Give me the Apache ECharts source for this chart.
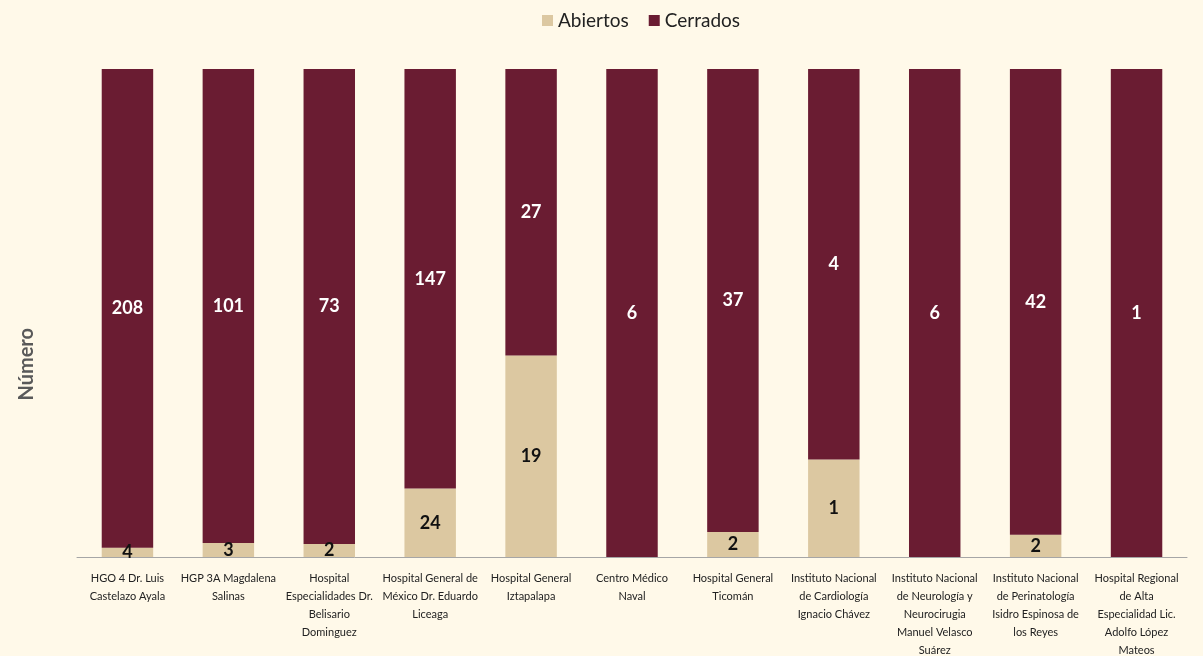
<!DOCTYPE html>
<html>
<head>
<meta charset="utf-8">
<style>
  html, body { margin: 0; padding: 0; background: #fff9e9; }
  #chart { width: 1203px; height: 656px; }
</style>
<script src="https://cdn.jsdelivr.net/npm/echarts@6/dist/echarts.min.js"></script>
</head>
<body>
<div id="chart"></div>
<script>
  var categories = [
    'HGO 4 Dr. Luis\nCastelazo Ayala',
    'HGP 3A Magdalena\nSalinas',
    'Hospital\nEspecialidades Dr.\nBelisario\nDominguez',
    'Hospital General de\nMéxico Dr. Eduardo\nLiceaga',
    'Hospital General\nIztapalapa',
    'Centro Médico\nNaval',
    'Hospital General\nTicomán',
    'Instituto Nacional\nde Cardiología\nIgnacio Chávez',
    'Instituto Nacional\nde Neurología y\nNeurocirugia\nManuel Velasco\nSuárez',
    'Instituto Nacional\nde Perinatología\nIsidro Espinosa de\nlos Reyes',
    'Hospital Regional\nde Alta\nEspecialidad Lic.\nAdolfo López\nMateos'
  ];
  var abiertos = [4, 3, 2, 24, 19, 0, 2, 1, 0, 2, 0];
  var cerrados = [208, 101, 73, 147, 27, 6, 37, 4, 6, 42, 1];

  // 100% stacked: bar height is the share, label shows the count
  function share(arr, i) {
    var total = abiertos[i] + cerrados[i];
    return { value: total ? arr[i] / total * 100 : 0, count: arr[i] };
  }
  var abData = abiertos.map(function (v, i) { return share(abiertos, i); });
  var ceData = cerrados.map(function (v, i) { return share(cerrados, i); });

  var font = 'Lato, "Open Sans", sans-serif';
  var chart = echarts.init(document.getElementById('chart'));
  chart.setOption({
    backgroundColor: '#fff9e9',
    animation: false,
    textStyle: { fontFamily: font },
    legend: {
      top: 6,
      left: 537,
      itemWidth: 11,
      itemHeight: 11,
      itemGap: 20,
      icon: 'rect',
      textStyle: { fontSize: 19, color: '#222', fontFamily: font },
      data: ['Abiertos', 'Cerrados']
    },
    graphic: [{
      type: 'text',
      left: 17,
      top: 328,
      rotation: Math.PI / 2,
      style: { text: 'Número', fontSize: 20, fontWeight: 'bold', fill: '#595959', fontFamily: font }
    }],
    grid: { left: 77, right: 16, top: 69, bottom: 99, outerBoundsMode: 'none' },
    xAxis: {
      type: 'category',
      data: categories,
      axisTick: { show: false },
      axisLine: { lineStyle: { color: '#a6a6a6', width: 1 } },
      axisLabel: {
        interval: 0,
        fontSize: 11,
        lineHeight: 18,
        color: '#222',
        margin: 12,
        fontFamily: font
      }
    },
    yAxis: {
      type: 'value',
      min: 0,
      max: 100,
      axisLabel: { show: false },
      axisLine: { show: false },
      axisTick: { show: false },
      splitLine: { show: false }
    },
    series: [
      {
        name: 'Abiertos',
        type: 'bar',
        stack: 'total',
        barWidth: '51%',
        itemStyle: { color: '#dcc8a1' },
        label: {
          show: true,
          position: 'inside',
          color: '#111',
          fontWeight: 'bold',
          fontSize: 18,
          fontFamily: font,
          formatter: function (p) { return p.data.count ? p.data.count : ''; }
        },
        data: abData
      },
      {
        name: 'Cerrados',
        type: 'bar',
        stack: 'total',
        barWidth: '51%',
        itemStyle: { color: '#6a1c32' },
        label: {
          show: true,
          position: 'inside',
          color: '#fff',
          fontWeight: 'bold',
          fontSize: 18,
          fontFamily: font,
          formatter: function (p) { return p.data.count ? p.data.count : ''; }
        },
        data: ceData
      }
    ]
  });
</script>
</body>
</html>
